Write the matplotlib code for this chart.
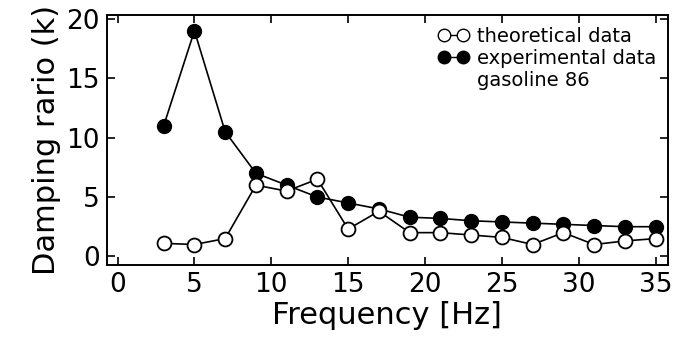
import matplotlib
matplotlib.use('Agg')
import matplotlib.pyplot as plt
from matplotlib.lines import Line2D

freq = [3, 5, 7, 9, 11, 13, 15, 17, 19, 21, 23, 25, 27, 29, 31, 33, 35]
experimental = [11.0, 19.0, 10.5, 7.0, 6.0, 5.0, 4.5, 4.0, 3.3, 3.2, 3.0, 2.9, 2.8, 2.7, 2.6, 2.5, 2.5]
theoretical = [1.1, 1.0, 1.5, 6.0, 5.5, 6.5, 2.3, 3.8, 2.0, 2.0, 1.8, 1.6, 1.0, 2.0, 1.0, 1.3, 1.5]
xticks = [0, 5, 10, 15, 20, 25, 30, 35]
yticks = [0, 5, 10, 15, 20]

fig, ax = plt.subplots(figsize=(6.76, 3.41), dpi=100)
fig.subplots_adjust(left=0.158, right=0.988, top=0.955, bottom=0.222)

ax.plot(freq, theoretical, '-o', color='black', mfc='white', mec='black',
        ms=10, lw=1.2, mew=1.3, zorder=3)
ax.plot(freq, experimental, '-o', color='black', mfc='black', mec='black',
        ms=10, lw=1.2, zorder=2)

ax.set_xlim(-0.7, 35.8)
ax.set_ylim(-0.75, 20.3)
ax.set_xticks(xticks)
ax.set_yticks(yticks)
ax.tick_params(direction='in', top=True, right=True, length=6, width=1.2,
               labelsize=19, pad=5)
for s in ax.spines.values():
    s.set_linewidth(1.4)

ax.set_xlabel('Frequency [Hz]', fontsize=22, labelpad=2)
ax.set_ylabel('Damping rario (k)', fontsize=22, labelpad=4)

handles = [
    Line2D([], [], color='black', marker='o', mfc='white', ms=9, lw=1),
    Line2D([], [], color='black', marker='o', mfc='black', ms=9, lw=1),
    Line2D([], [], color='none'),
]
labels = ['theoretical data', 'experimental data', 'gasoline 86']
ax.legend(handles, labels, loc='upper right', frameon=False, fontsize=14,
          handlelength=1.6, handletextpad=0.4, labelspacing=0.15,
          borderaxespad=0.2, numpoints=2)

fig.savefig('out.png', dpi=100)
